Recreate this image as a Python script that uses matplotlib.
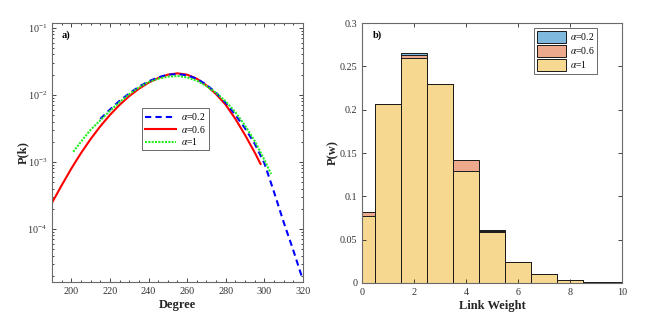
import numpy as np
import matplotlib
matplotlib.use("Agg")
import matplotlib.pyplot as plt
from matplotlib.ticker import LogLocator, MultipleLocator, NullFormatter, FixedLocator

plt.rcParams['font.family'] = ['Liberation Serif', 'DejaVu Serif']
plt.rcParams['mathtext.fontset'] = 'stix'

# ---- Panel a) degree distributions (log10 P(k) read from picture) ----
deg_red = [190, 195, 200, 205, 210, 215, 220, 225, 230, 235, 240, 245, 250, 255,
           260, 265, 270, 275, 280, 285, 290, 295, 298]
logp_red = [-3.61, -3.35, -3.10, -2.87, -2.66, -2.47, -2.30, -2.15, -2.02, -1.91,
            -1.82, -1.75, -1.70, -1.68, -1.70, -1.76, -1.86, -1.99, -2.15, -2.36,
            -2.60, -2.86, -3.03]

deg_blue = [215, 220, 225, 230, 235, 240, 245, 250, 255, 260, 265, 270, 275, 280,
            285, 290, 295, 300, 305, 310, 315, 319.5]
logp_blue = [-2.36, -2.22, -2.09, -1.98, -1.88, -1.80, -1.74, -1.70, -1.69, -1.71,
             -1.76, -1.85, -1.97, -2.12, -2.30, -2.50, -2.73, -3.02, -3.45, -3.90,
             -4.32, -4.72]

deg_green = [201, 205, 210, 215, 220, 225, 230, 235, 240, 245, 250, 255, 260, 265,
             270, 275, 280, 285, 290, 295, 300, 303.5]
logp_green = [-2.85, -2.70, -2.52, -2.38, -2.24, -2.11, -1.99, -1.89, -1.81, -1.76,
              -1.73, -1.72, -1.74, -1.79, -1.87, -1.97, -2.10, -2.26, -2.46, -2.69,
              -2.97, -3.18]

# ---- Panel b) link weight histograms ----
weights = [0, 1, 2, 3, 4, 5, 6, 7, 8, 9, 10]
pw_a02 = [0.078, 0.207, 0.265, 0.230, 0.128, 0.061, 0.024, 0.010, 0.003, 0.0015, 0.0008]
pw_a06 = [0.082, 0.207, 0.263, 0.230, 0.142, 0.060, 0.024, 0.010, 0.003, 0.0015, 0.0008]
pw_a1 = [0.077, 0.207, 0.260, 0.230, 0.129, 0.059, 0.024, 0.010, 0.003, 0.0015, 0.0008]

labels = [r'$\alpha$=0.2', r'$\alpha$=0.6', r'$\alpha$=1']

fig = plt.figure(figsize=(6.54, 3.27), dpi=100)
axc = '#262626'
tick_fs = 7.3
lab_fs = 9

# Left
ax1 = fig.add_axes([0.0795, 0.1376, 0.3838, 0.792])
ax1.plot(deg_blue, 10 ** np.array(logp_blue), color='blue', ls=(0, (3, 2)), lw=1.5, label=labels[0], zorder=3)
ax1.plot(deg_red, 10 ** np.array(logp_red), color='red', ls='-', lw=1.5, label=labels[1], zorder=2)
ax1.plot(deg_green, 10 ** np.array(logp_green), color='#22ee22', ls=(0, (1, 0.6)), lw=1.5, label=labels[2], zorder=4)
ax1.set_yscale('log')
ax1.set_xlim(190, 320)
ax1.set_ylim(1.62e-5, 0.1175)
ax1.xaxis.set_major_locator(MultipleLocator(20))
ax1.xaxis.set_minor_locator(MultipleLocator(5))
ax1.yaxis.set_major_locator(FixedLocator([1e-4, 1e-3, 1e-2, 1e-1]))
ax1.yaxis.set_minor_locator(LogLocator(base=10, subs=np.arange(2, 10)))
ax1.yaxis.set_minor_formatter(NullFormatter())
ax1.set_xlabel('Degree', fontsize=lab_fs, fontweight='bold', color=axc, labelpad=2)
ax1.set_ylabel('P(k)', fontsize=lab_fs, fontweight='bold', color=axc, labelpad=-1)
ax1.text(0.04, 0.97, 'a)', transform=ax1.transAxes, fontsize=7.5, fontweight='bold', va='top', color='black')
leg1 = ax1.legend(loc='upper left', bbox_to_anchor=(0.36, 0.67), fontsize=7, frameon=True, fancybox=False,
                  handlelength=3.2, borderpad=0.3, labelspacing=0.15, handletextpad=0.5,
                  borderaxespad=0)
leg1.get_frame().set_edgecolor(axc)
leg1.get_frame().set_linewidth(0.6)

# Right
ax2 = fig.add_axes([0.5535, 0.1346, 0.3976, 0.795])
cols = ['#80B9DE', '#ECA98C', '#F6D890']
for vals, c, lab in zip([pw_a02, pw_a06, pw_a1], cols, labels):
    ax2.bar(weights, vals, width=1.0, color=c, edgecolor='#1a1a1a', linewidth=0.7, label=lab, align='center')
ax2.set_xlim(0, 10)
ax2.set_ylim(0, 0.3)
ax2.xaxis.set_major_locator(MultipleLocator(2))
ax2.yaxis.set_major_locator(FixedLocator([0, 0.05, 0.1, 0.15, 0.2, 0.25, 0.3]))
ax2.set_yticklabels(['0', '0.05', '0.1', '0.15', '0.2', '0.25', '0.3'])
ax2.set_xlabel('Link Weight', fontsize=lab_fs, fontweight='bold', color=axc, labelpad=2)
ax2.set_ylabel('P(w)', fontsize=lab_fs, fontweight='bold', color=axc, labelpad=0)
ax2.text(0.04, 0.97, 'b)', transform=ax2.transAxes, fontsize=7.5, fontweight='bold', va='top', color='black')
leg2 = ax2.legend(loc='upper right', bbox_to_anchor=(0.905, 0.98), fontsize=7, frameon=True, fancybox=False,
                  handlelength=3.0, handleheight=1.5, borderpad=0.3, labelspacing=0.2, handletextpad=0.4,
                  borderaxespad=0)
leg2.get_frame().set_edgecolor(axc)
leg2.get_frame().set_linewidth(0.6)

for ax in (ax1, ax2):
    for s in ax.spines.values():
        s.set_color('#6a6a6a')
        s.set_linewidth(0.8)
    ax.tick_params(which='both', direction='in', top=True, right=True, colors=axc,
                   labelsize=tick_fs, labelcolor='#333333', width=0.6)
    ax.tick_params(which='major', length=3)
    ax.tick_params(which='minor', length=1.6)

fig.savefig('out.png', dpi=100)
